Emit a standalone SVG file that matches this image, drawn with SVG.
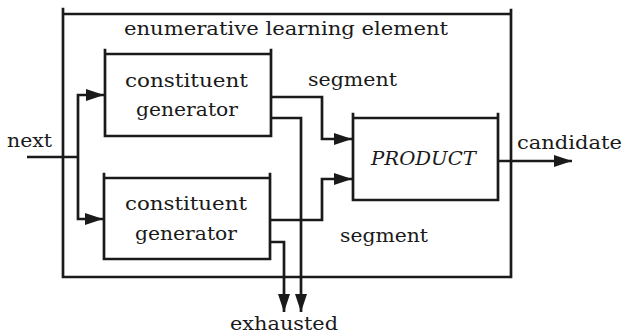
<svg xmlns="http://www.w3.org/2000/svg" width="624" height="335" viewBox="0 0 624 335">
  <defs>
    <marker id="arrow" markerUnits="userSpaceOnUse" markerWidth="18" markerHeight="12" refX="18" refY="6" orient="auto">
      <path d="M0,0 L18,6 L0,12 Z" fill="#1a1a1a"/>
    </marker>
  </defs>
  <style>
    .box { fill: none; stroke: #1a1a1a; stroke-width: 2.7; stroke-linecap: square; }
    .wire { fill: none; stroke: #1a1a1a; stroke-width: 2.7; }
    .arr { marker-end: url(#arrow); }
    text { font-family: "DejaVu Serif", "Liberation Serif", serif; font-size: 19px; fill: #1a1a1a; }
    .it { font-style: italic; }
  </style>
  <rect width="624" height="335" fill="#ffffff"/>

  <!-- enclosing element -->
  <g id="learning-element">
    <path class="box" d="M63,9 V277 H511 V10 M63,14 H511"/>
    <text x="124" y="35" textLength="324" lengthAdjust="spacingAndGlyphs">enumerative learning element</text>
  </g>

  <!-- upper constituent generator -->
  <g id="generator-top">
    <path class="box" d="M105,50 V136 H271 V50 M105,54 H271"/>
    <text x="125" y="87" textLength="123" lengthAdjust="spacingAndGlyphs">constituent</text>
    <text x="136" y="116" textLength="102" lengthAdjust="spacingAndGlyphs">generator</text>
  </g>

  <!-- lower constituent generator -->
  <g id="generator-bottom">
    <path class="box" d="M104,174 V259 H270 V174 M104,178 H270"/>
    <text x="125" y="210" textLength="122" lengthAdjust="spacingAndGlyphs">constituent</text>
    <text x="135" y="240" textLength="102" lengthAdjust="spacingAndGlyphs">generator</text>
  </g>

  <!-- product combiner -->
  <g id="product">
    <path class="box" d="M353,114 V200 H498 V114 M353,118 H498"/>
    <text class="it" x="371" y="165" textLength="105" lengthAdjust="spacingAndGlyphs">PRODUCT</text>
  </g>

  <!-- connectors -->
  <g id="connectors">
    <path class="wire" d="M27,157 H78"/>
    <path class="wire arr" d="M78,157 V95 H104"/>
    <path class="wire arr" d="M78,157 V219 H103"/>
    <path class="wire arr" d="M271,97 H322 V139 H352"/>
    <path class="wire arr" d="M271,118 H301 V312"/>
    <path class="wire arr" d="M270,220 H322 V179 H352"/>
    <path class="wire arr" d="M270,242 H284 V312"/>
    <path class="wire arr" d="M498,161 H572"/>
  </g>

  <!-- signal labels -->
  <g id="labels">
    <text x="7" y="147" textLength="45" lengthAdjust="spacingAndGlyphs">next</text>
    <text x="308" y="86" textLength="89" lengthAdjust="spacingAndGlyphs">segment</text>
    <text x="340" y="242" textLength="88" lengthAdjust="spacingAndGlyphs">segment</text>
    <text x="517" y="149" textLength="105" lengthAdjust="spacingAndGlyphs">candidate</text>
    <text x="230" y="330" textLength="108" lengthAdjust="spacingAndGlyphs">exhausted</text>
  </g>
</svg>
